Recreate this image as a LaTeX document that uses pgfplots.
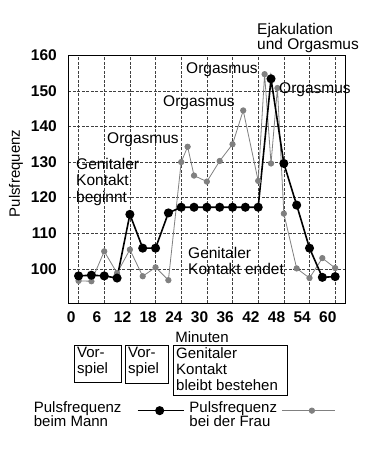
\documentclass[border=0pt]{standalone}
\usepackage{fontspec}
\setmainfont{Liberation Sans}
\usepackage{pgfplots}
\pgfplotsset{compat=1.18}
\definecolor{frau}{gray}{0.5}
\begin{document}
\begin{tikzpicture}[x=1pt,y=1pt]
\path[use as bounding box] (0,0) rectangle (380,451);
\begin{axis}[
  at={(68.3pt,147.7pt)}, anchor=south west,
  scale only axis, width=276.7pt, height=248pt,
  xmin=-2.4, xmax=62.3, ymin=90.3, ymax=160,
  xtick={0,6,...,60}, ytick={100,110,...,160},
  major tick length=0pt,
  grid=major,
  major grid style={black!75, line width=0.5pt, dash pattern=on 3pt off 1.5pt},
  axis line style={black, line width=0.8pt},
  /pgf/number format/assume math mode=true,
  tick label style={font=\fontsize{15.5}{16}\selectfont\bfseries},
  yticklabel style={xshift=-8pt},
  xticklabel style={xshift=-7.3pt, yshift=-5pt},
  clip=false,
  legend plot pos=right,
  legend columns=2,
  legend cell align=left,
  reverse legend,
  legend style={at={(-0.1323,-0.3859)}, anchor=north west, draw=none, fill=none,
    inner sep=0pt, column sep=0pt, font=\fontsize{15}{14.5}\selectfont,
    cells={align=left, inner sep=0pt}},
]
\addplot[color=frau, line width=0.8pt, mark=*, mark size=2.7pt, mark options={fill=frau, draw=frau},
  legend image code/.code={\draw[mark repeat=2, mark phase=2] plot coordinates {(0pt,4pt) (30pt,4pt) (53pt,4pt)};}]
  coordinates {
  (0,96.6) (3,96.5) (6,104.9) (9,98.8) (12,105.4) (15,97.9) (18,100.4) (21,96.8)
  (24,130.0) (25.5,134.3) (27,126.2) (30,124.5) (33,130.3) (36,135.0) (38.5,144.5)
  (42,124.7) (43.5,154.7) (45,129.6) (46.5,150.8) (48,115.5) (51,100.1) (54,97.4)
  (57,103.0) (60,100.2)
  };
\addplot[color=black, line width=1.6pt, mark=*, mark size=3.7pt, mark options={fill=black},
  legend image code/.code={\draw[mark repeat=2, mark phase=2] plot coordinates {(0pt,4pt) (22pt,4pt) (46pt,4pt)};}]
  coordinates {
  (0,98.0) (3,98.2) (6,98.0) (9,97.4) (12,115.3) (15,105.8) (18,105.8) (21,115.7)
  (24,117.3) (27,117.3) (30,117.3) (33,117.3) (36,117.3) (39,117.3) (42,117.3)
  (45,153.4) (48,129.6) (51,117.9) (54,105.8) (57,97.6) (60,97.8)
  };
\legend{\makebox[93pt][l]{\hspace{3pt}Pulsfrequenz}\\\hspace{3pt}bei der Frau, \makebox[101pt][l]{Pulsfrequenz}\\beim Mann}
\end{axis}
\tikzset{lab/.style={anchor=north west, inner sep=0pt, align=left, font=\fontsize{15.5}{16.5}\selectfont}}
\node[lab, font=\fontsize{15.5}{15}\selectfont] at (257,428) {Ejakulation\\und Orgasmus};
\node[lab] at (186,389) {Orgasmus};
\node[lab] at (279,369) {Orgasmus};
\node[lab] at (163,356) {Orgasmus};
\node[lab] at (107,319) {Orgasmus};
\node[lab] at (76,293) {Genitaler\\Kontakt\\beginnt};
\node[lab] at (188,204) {Genitaler\\Kontakt endet};
\node[inner sep=0pt, font=\fontsize{15}{16}\selectfont] at (202,114) {Minuten};
\node[rotate=90, inner sep=0pt, font=\fontsize{15}{16}\selectfont] at (16,277.5) {Pulsfrequenz};
\draw[line width=0.7pt] (74,106) rectangle (121,69);
\draw[line width=0.7pt] (125,106) rectangle (168,68);
\draw[line width=0.7pt] (173,106) rectangle (287,56);
\node[lab, font=\fontsize{15}{16}\selectfont] at (77,104) {Vor-\\spiel};
\node[lab, font=\fontsize{15}{16}\selectfont] at (128,104) {Vor-\\spiel};
\node[lab, font=\fontsize{15}{16}\selectfont] at (176,104) {Genitaler\\Kontakt\\bleibt bestehen};
\end{tikzpicture}
\end{document}
